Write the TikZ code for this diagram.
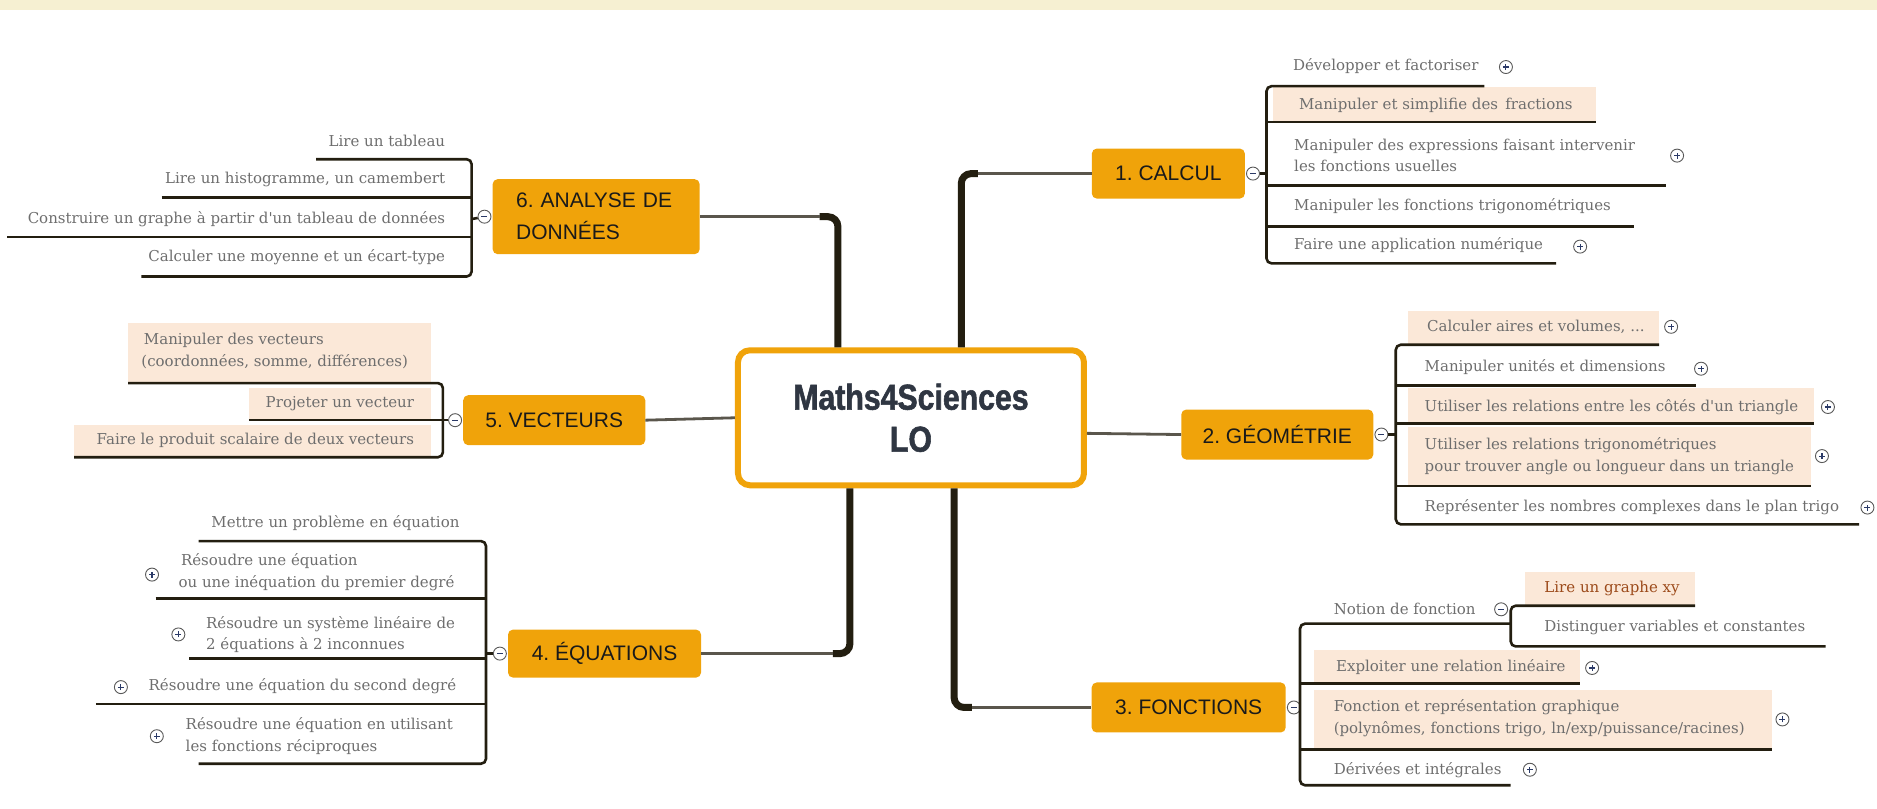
\documentclass[tikz,border=0pt]{standalone}
\usepackage{fontspec}
\usepackage{tikz}
\usetikzlibrary{positioning,calc}
\setmainfont{Liberation Sans}
\newfontfamily\subfont{DejaVu Serif}
\newfontfamily\topfont{Liberation Sans}
\newfontfamily\hubfont{Liberation Sans}[FakeStretch=0.84,FakeBold=1.5]
\definecolor{band}{HTML}{F6F0D2}
\definecolor{orng}{HTML}{F0A30A}
\definecolor{peach}{HTML}{FBE8D8}
\definecolor{ink}{HTML}{231E10}
\definecolor{subgray}{HTML}{6E6E6E}
\definecolor{hubink}{HTML}{2F3642}
\definecolor{topink}{HTML}{1A1A1A}
\definecolor{rust}{HTML}{9C4A1A}
\definecolor{signblue}{HTML}{2B3A67}

\begin{document}
\frenchspacing
\begin{tikzpicture}[x=1.197pt,y=-1.197pt,
  topic/.style={fill=orng,rounded corners=5pt,text=topink,inner sep=0pt,
    font=\topfont\fontsize{21}{25}\selectfont},
  sub/.style={font=\subfont\fontsize{15}{21.5}\selectfont,text=subgray,inner sep=0pt},
  hl/.style={fill=peach},
  twig/.style={draw=ink,line width=2.6pt,rounded corners=5pt},
  trunk/.style={draw=ink,line width=7pt,rounded corners=10pt},
  limb/.style={draw=ink!75,line width=2.8pt},
  knob/.style={circle,draw=gray!70!black,fill=white,line width=0.9pt,minimum size=13pt,inner sep=0pt},
  fold/.style={knob,path picture={\draw[signblue,line width=1.1pt]
    ([xshift=-3pt]path picture bounding box.center) -- ([xshift=3pt]path picture bounding box.center);}},
  unfold/.style={knob,path picture={\draw[signblue,line width=1.1pt]
    ([xshift=-3pt]path picture bounding box.center) -- ([xshift=3pt]path picture bounding box.center)
    ([yshift=-3pt]path picture bounding box.center) -- ([yshift=3pt]path picture bounding box.center);}}]
\useasboundingbox (0,0) rectangle (1568,675);
\fill[band] (0,0) rectangle (1568,8);

% central topic and main topics
\node[draw=orng,line width=6pt,fill=white,rounded corners=12pt,minimum width=346pt,minimum height=135pt,
  align=center,text=hubink,font=\hubfont\bfseries\fontsize{36}{42}\selectfont] (hub) at (761,349) {Maths4Sciences\\LO};
\node[topic,minimum width=153pt,minimum height=50pt] (t1) at (976,145) {1. CALCUL};
\node[topic,minimum width=192pt,minimum height=50pt] (t2) at (1067,363) {2. GÉOMÉTRIE};
\node[topic,minimum width=194pt,minimum height=50pt] (t3) at (993,591) {3. FONCTIONS};
\node[topic,minimum width=193pt,minimum height=48pt] (t4) at (505,546) {4. ÉQUATIONS};
\node[topic,minimum width=182pt,minimum height=50pt] (t5) at (463,351) {5. VECTEURS};
\node[topic,minimum width=207pt,minimum height=75pt,text width=160pt,align=left,
  font=\topfont\fontsize{21}{32}\selectfont] (t6) at (498,181) {6. ANALYSE DE\\DONNÉES};

% branches from the centre
\draw[trunk] ($(hub.north)+(-61,0)$) |- ($(t6.east)+(100,0)$);
\draw[limb] ($(t6.east)+(100,0)$) -- (t6.east);
\draw[trunk] ($(hub.north)+(42,0)$) |- ($(t1.west)+(-95,0)$);
\draw[limb] ($(t1.west)+(-95,0)$) -- (t1.west);
\draw[trunk] ($(hub.south)+(-51,0)$) |- ($(t4.east)+(110,0)$);
\draw[limb] ($(t4.east)+(110,0)$) -- (t4.east);
\draw[trunk] ($(hub.south)+(36,0)$) |- ($(t3.west)+(-100,0)$);
\draw[limb] ($(t3.west)+(-100,0)$) -- (t3.west);
\draw[limb] (hub.west) -- (t5.east);
\draw[limb] ($(hub.east)+(0,13)$) -- (t2.west);

% fold knobs
\node[fold,right=1pt of t1] (f1) {};
\node[fold,right=1pt of t2] (f2) {};
\node[fold,right=1pt of t3] (f3) {};
\node[fold,left=1pt of t4] (f4) {};
\node[fold,left=1pt of t5] (f5) {};
\node[fold,left=1pt of t6] (f6) {};

% 1. calcul
\fill[hl] (1063,73) rectangle (1333,101);
\node[sub,anchor=west] (c11) at (1080,55) {Développer et factoriser};
\node[sub,anchor=west] (c12) at (1085,88) {Manipuler et simplifie des\, fractions};
\node[sub,anchor=west,align=left] (c13) at (1081,130) {Manipuler des expressions faisant intervenir\\les fonctions usuelles};
\node[sub,anchor=west] (c14) at (1081,172) {Manipuler les fonctions trigonométriques};
\node[sub,anchor=west] (c15) at (1081,205) {Faire une application numérique};
\node[unfold] (p11) at (1258,56) {};
\node[unfold] (p13) at (1401,130) {};
\node[unfold] (p15) at (1320,206) {};
\coordinate (b1) at (1058,145);
\draw[twig] (f1) -- (b1);
\draw[twig] (1240,72) -- (1058,72) -- (1058,220) -- (1300,220);
\foreach \y/\xe in {102/1333,155/1392,189/1365} \draw[twig] (1058,\y) -- (\xe,\y);

% 2. geometrie
\fill[hl] (1176,260) rectangle (1386,287);
\fill[hl] (1176,324) rectangle (1515,353);
\fill[hl] (1176,357) rectangle (1513,405);
\node[sub,anchor=west] (c21) at (1192,273) {Calculer aires et volumes, ...};
\node[sub,anchor=west] (c22) at (1190,307) {Manipuler unités et dimensions};
\node[sub,anchor=west] (c23) at (1190,340) {Utiliser les relations entre les côtés d'un triangle};
\node[sub,anchor=west,align=left] (c24) at (1190,381) {Utiliser les relations trigonométriques\\pour trouver angle ou longueur dans un triangle};
\node[sub,anchor=west] (c25) at (1190,424) {Représenter les nombres complexes dans le plan trigo};
\node[unfold] (p21) at (1396,273) {};
\node[unfold] (p22) at (1421,308) {};
\node[unfold] (p23) at (1527,340) {};
\node[unfold] (p24) at (1522,381) {};
\node[unfold] (p25) at (1560,424) {};
\coordinate (b2) at (1166,363);
\draw[twig] (f2) -- (b2);
\draw[twig] (1386,288) -- (1166,288) -- (1166,438) -- (1553,438);
\foreach \y/\xe in {322/1417,354/1515,406/1513} \draw[twig] (1166,\y) -- (\xe,\y);

% 3. fonctions
\fill[hl] (1274,478) rectangle (1416,505);
\fill[hl] (1098,543) rectangle (1320,570);
\fill[hl] (1098,576) rectangle (1480,625);
\node[sub,anchor=west] (c31) at (1114,509) {Notion de fonction};
\node[sub,anchor=west,text=rust] (c311) at (1290,492) {Lire un graphe xy};
\node[sub,anchor=west] (c312) at (1290,524) {Distinguer variables et constantes};
\node[sub,anchor=west] (c32) at (1116,557) {Exploiter une relation linéaire};
\node[sub,anchor=west,align=left] (c33) at (1114,600) {Fonction et représentation graphique\\(polynômes, fonctions trigo, ln/exp/puissance/racines)};
\node[sub,anchor=west] (c34) at (1114,643) {Dérivées et intégrales};
\node[fold] (f31) at (1254,509) {};
\node[unfold] (p32) at (1330,558) {};
\node[unfold] (p33) at (1489,601) {};
\node[unfold] (p34) at (1278,643) {};
\coordinate (b3) at (1086,591);
\draw[twig] (f3) -- (b3);
\draw[twig] (1262,521) -- (1086,521) -- (1086,656) -- (1262,656);
\foreach \y/\xe in {571/1320,626/1480} \draw[twig] (1086,\y) -- (\xe,\y);
\draw[twig] (1416,506) -- (1262,506) -- (1262,540) -- (1525,540);

% 6. analyse de donnees
\node[sub,anchor=east] (c61) at (372,118) {Lire un tableau};
\node[sub,anchor=east] (c62) at (372,150) {Lire un histogramme, un camembert};
\node[sub,anchor=east] (c63) at (372,183) {Construire un graphe à partir d'un tableau de données};
\node[sub,anchor=east] (c64) at (372,215) {Calculer une moyenne et un écart-type};
\coordinate (b6) at (394,183);
\draw[twig] (f6) -- (b6);
\draw[twig] (264,133) -- (394,133) -- (394,231) -- (118,231);
\foreach \y/\xs in {165/135,198/6} \draw[twig] (\xs,\y) -- (394,\y);

% 5. vecteurs
\fill[hl] (107,270) rectangle (360,319);
\fill[hl] (208,324) rectangle (360,350);
\fill[hl] (62,355) rectangle (360,381);
\node[sub,anchor=west,align=left] (c51) at (118,293) {\,Manipuler des vecteurs\\(coordonnées, somme, différences)};
\node[sub,anchor=east] (c52) at (346,337) {Projeter un vecteur};
\node[sub,anchor=east] (c53) at (346,368) {Faire le produit scalaire de deux vecteurs};
\coordinate (b5) at (370,351);
\draw[twig] (f5) -- (b5);
\draw[twig] (107,320) -- (370,320) -- (370,382) -- (62,382);
\draw[twig] (208,351) -- (370,351);

% 4. equations
\node[sub,anchor=east] (c41) at (384,437) {Mettre un problème en équation};
\node[sub,anchor=west,align=left] (c42) at (149,478) {\,Résoudre une équation\\ou une inéquation du premier degré};
\node[sub,anchor=west,align=left] (c43) at (172,530) {Résoudre un système linéaire de\\2 équations à 2 inconnues};
\node[sub,anchor=west] (c44) at (124,573) {Résoudre une équation du second degré};
\node[sub,anchor=west,align=left] (c45) at (155,615) {Résoudre une équation en utilisant\\les fonctions réciproques};
\node[unfold] (p42) at (127,480) {};
\node[unfold] (p43) at (149,530) {};
\node[unfold] (p44) at (101,574) {};
\node[unfold] (p45) at (131,615) {};
\coordinate (b4) at (406,546);
\draw[twig] (f4) -- (b4);
\draw[twig] (166,452) -- (406,452) -- (406,638) -- (166,638);
\foreach \y/\xs in {500/130,550/158,588/80} \draw[twig] (\xs,\y) -- (406,\y);
\end{tikzpicture}
\end{document}
